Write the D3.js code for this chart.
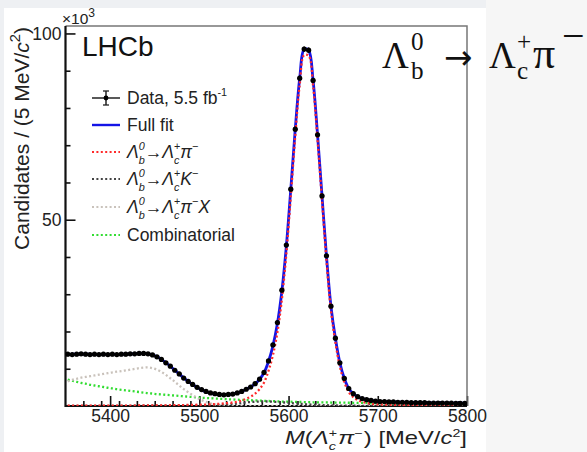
<!DOCTYPE html>
<html><head><meta charset="utf-8">
<script src="https://cdn.jsdelivr.net/npm/d3@7"></script>
<style>body{margin:0;padding:0;}svg{display:block;}</style>
</head><body>
<svg id="chart" width="587" height="452"></svg>
<script>
// ---------- data (x10^3 candidates per 5 MeV/c^2 bin) ----------
const massMin = 5350, massMax = 5800, binWidth = 5;
const xTickLabels = [5400, 5500, 5600, 5700, 5800];
const yTickLabels = [50, 100];
const dataValues = [
 13.9,13.8,13.9,14.0,13.9,13.8,13.9,13.8,13.9,13.8,
 13.9,13.8,13.9,13.9,14.0,14.0,14.1,14.1,14.0,13.7,
 13.2,12.5,11.6,10.7,9.6,8.6,7.5,6.6,5.8,5.0,
 4.4,3.9,3.5,3.3,3.1,3.0,3.1,3.2,3.5,3.9,
 4.5,5.1,6.0,7.2,9.0,12.1,16.4,22.4,31.1,43.2,
 58.2,74.3,88.0,95.8,95.5,87.4,72.8,56.4,40.3,26.8,
 18.2,11.6,7.4,4.7,3.3,2.5,2.0,1.7,1.5,1.3,
 1.2,1.2,1.1,1.1,1.0,1.0,1.0,0.9,0.9,0.9,
 0.9,0.8,0.8,0.8,0.8,0.8,0.8,0.7,0.7,0.7];
const sigLbPi = [
 0.08,0.08,0.08,0.08,0.09,0.09,0.09,0.09,0.1,0.1,
 0.1,0.1,0.11,0.11,0.12,0.12,0.13,0.13,0.14,0.15,
 0.16,0.17,0.18,0.2,0.21,0.23,0.25,0.28,0.31,0.33,
 0.35,0.39,0.44,0.5,0.58,0.68,0.8,0.95,1.15,1.45,
 1.95,2.5,3.3,4.5,6.3,9.4,13.7,19.8,28.6,40.8,
 56.2,72.5,86.3,94.2,94.0,86.0,71.5,55.2,39.1,25.7,
 17.1,10.6,6.4,3.75,2.37,1.6,1.12,0.84,0.66,0.48,
 0.42,0.38,0.35,0.32,0.3,0.28,0.26,0.24,0.23,0.22,
 0.21,0.2,0.19,0.18,0.17,0.17,0.16,0.16,0.15,0.15];
const bkgLbK = [
 0.05,0.05,0.05,0.05,0.05,0.05,0.05,0.05,0.05,0.05,
 0.05,0.05,0.06,0.06,0.06,0.07,0.07,0.08,0.08,0.09,
 0.09,0.1,0.1,0.11,0.12,0.13,0.14,0.15,0.17,0.18,
 0.18,0.2,0.23,0.26,0.3,0.35,0.42,0.52,0.64,0.78,
 0.97,1.07,1.15,1.2,1.22,1.2,1.15,1.08,1.0,0.9,
 0.8,0.7,0.6,0.5,0.42,0.35,0.3,0.25,0.2,0.17,
 0.14,0.12,0.1,0.08,0.07,0.06,0.05,0.04,0.04,0.03,
 0.03,0.03,0.03,0.03,0.03,0.02,0.02,0.02,0.02,0.02,
 0.02,0.02,0.02,0.02,0.02,0.02,0.02,0.02,0.02,0.02];
const bkgPartReco = [
 6.6,7.0,7.3,7.6,7.8,8.0,8.2,8.4,8.6,8.8,
 9.0,9.2,9.35,9.55,9.75,9.95,10.15,10.3,10.35,10.15,
 9.75,9.15,8.35,7.45,6.5,5.5,4.55,3.7,2.9,2.2,
 1.6,1.1,0.7,0.42,0.22,0.1,0.05,0.02,0.01,0,
 0,0,0,0,0,0,0,0,0,0,
 0,0,0,0,0,0,0,0,0,0,
 0,0,0,0,0,0,0,0,0,0,
 0,0,0,0,0,0,0,0,0,0,
 0,0,0,0,0,0,0,0,0,0];
const bkgComb = [
 7.1,6.8,6.5,6.2,6.0,5.7,5.5,5.3,5.1,4.9,
 4.7,4.5,4.35,4.2,4.05,3.9,3.75,3.6,3.45,3.35,
 3.2,3.1,3.0,2.9,2.8,2.7,2.6,2.5,2.4,2.3,
 2.2,2.15,2.1,2.0,1.95,1.9,1.8,1.75,1.7,1.65,
 1.6,1.55,1.5,1.45,1.4,1.35,1.3,1.25,1.2,1.18,
 1.15,1.1,1.08,1.05,1.02,1.0,0.98,0.96,0.95,0.93,
 0.92,0.9,0.89,0.87,0.86,0.85,0.83,0.82,0.8,0.79,
 0.78,0.76,0.75,0.74,0.72,0.71,0.7,0.69,0.67,0.66,
 0.65,0.64,0.63,0.62,0.61,0.6,0.59,0.58,0.57,0.56];

const binCenters = dataValues.map((_, i) => massMin + binWidth * (i + 0.5));
const fullFit = binCenters.map((_, i) => sigLbPi[i] + bkgLbK[i] + bkgPartReco[i] + bkgComb[i]);

// ---------- layout ----------
const svg = d3.select('#chart');
const SANS = "'Liberation Sans', Arial, Helvetica, sans-serif";
const SERIF = "'Liberation Serif', 'Times New Roman', serif";
svg.append('rect').attr('width', 587).attr('height', 452).attr('fill', '#eef0f3');
svg.append('rect').attr('x', 486).attr('y', 0).attr('width', 101).attr('height', 452).attr('fill', '#f6f6f6');
svg.append('rect').attr('x', 4).attr('y', 8).attr('width', 482).attr('height', 444).attr('fill', '#ffffff');

const L = 65.5, R = 467, T = 26, B = 406;
const x = d3.scaleLinear().domain([massMin, massMax]).range([L, R]);
const y = d3.scaleLinear().domain([0, 102]).range([B, T]);

svg.append('defs').append('clipPath').attr('id', 'clip')
  .append('rect').attr('x', L).attr('y', T).attr('width', R - L).attr('height', B - T);

// rich-text helper
function rich(parent, parts, o) {
  const fs = o.size;
  const t = parent.append('text').attr('font-family', o.family).attr('font-size', fs).attr('fill', o.fill || '#111');
  let cx = 0;
  const add = (str, dy, size, it, fam) => {
    const sp = t.append('tspan').attr('x', cx).attr('y', dy).attr('font-size', size)
      .attr('font-style', it ? 'italic' : 'normal').text(str);
    if (fam) sp.attr('font-family', fam);
    return sp.node().getComputedTextLength();
  };
  parts.forEach(p => {
    if (p.at !== undefined) cx = p.at;
    if (p.s !== undefined) { cx += add(p.s, p.dy || 0, p.size || fs, p.i, p.fam) + (p.pad || 0); }
    else {
      const ss = p.size || fs * (o.scr || 0.7);
      let w1 = 0, w2 = 0;
      if (p.sup !== undefined) w1 = add(p.sup, -fs * (o.up || 0.42) + (p.dy || 0), ss, p.si);
      if (p.sub !== undefined) w2 = add(p.sub, fs * (o.down || 0.28), ss, p.bi);
      cx += Math.max(w1, w2) + (p.pad || 0);
    }
  });
  return { node: t, width: cx };
}

// ---------- axes ----------
const xMinor = d3.range(massMin + 20, massMax, 20).filter(v => v % 100 !== 0);
const yMinor = d3.range(10, 101, 10).filter(v => v % 50 !== 0);

svg.append('g').attr('transform', `translate(0,${B})`)
  .call(d3.axisBottom(x).tickValues(xTickLabels).tickSize(-10).tickPadding(4).tickFormat(d3.format('d')));
svg.append('g').attr('transform', `translate(0,${B})`)
  .call(d3.axisBottom(x).tickValues(xMinor).tickSize(-5).tickFormat(''));
svg.append('g').attr('transform', `translate(${L},0)`)
  .call(d3.axisLeft(y).tickValues(yTickLabels).tickSize(-10).tickPadding(4));
svg.append('g').attr('transform', `translate(${L},0)`)
  .call(d3.axisLeft(y).tickValues(yMinor).tickSize(-5).tickFormat(''));
svg.selectAll('.domain').remove();
svg.selectAll('.tick line').attr('stroke', '#111').attr('stroke-width', 1.6);
svg.selectAll('.tick text').attr('font-family', SANS).attr('font-size', 17.5).attr('fill', '#222');

// frame
svg.append('path').attr('d', `M${L},${T}H${R}V${B}`).attr('fill', 'none').attr('stroke', '#777').attr('stroke-width', 1.5);
svg.append('path').attr('d', `M${L},${T}V${B}H${R}`).attr('fill', 'none').attr('stroke', '#111').attr('stroke-width', 2.2);

// x10^3
const mult = svg.append('g').attr('transform', 'translate(62,24)');
rich(mult, [{ s: '×10' }, { sup: '3' }], { size: 15.5, family: SANS, fill: '#222', scr: 0.78, up: 0.45 });

// axis titles
const xt = svg.append('g');
const xr = rich(xt, [{ s: 'M', i: true }, { s: '(' }, { s: 'Λ', i: true }, { sub: 'c', sup: '+', bi: true, pad: 1 }, { s: 'π', i: true }, { sup: '−', pad: 1 }, { s: ') [MeV/' }, { s: 'c', i: true }, { sup: '2' }, { s: ']' }],
  { size: 18.5, family: SANS, fill: '#222', scr: 0.6, up: 0.4, down: 0.3 });
const xStretch = 182 / xr.width;
xt.attr('transform', `translate(${R - xr.width * xStretch},444) scale(${xStretch},1)`);

const yt = svg.append('g');
const yr = rich(yt, [{ s: 'Candidates / (5 MeV/' }, { s: 'c', i: true }, { sup: '2' }, { s: ')' }],
  { size: 21, family: SANS, fill: '#222' });
yt.attr('transform', `translate(29,${27 + yr.width}) rotate(-90)`);

// ---------- curves ----------
const plot = svg.append('g').attr('clip-path', 'url(#clip)');
const lineOf = arr => d3.line().x((d, i) => x(binCenters[i])).y(d => y(d)).curve(d3.curveCatmullRom.alpha(0.5))(arr);

plot.append('path').attr('d', lineOf(fullFit)).attr('fill', 'none').attr('stroke', '#1414e6').attr('stroke-width', 2.8);
const comps = [
  { arr: bkgComb, color: '#33dd33' },
  { arr: bkgPartReco, color: '#c9c2bb' },
  { arr: bkgLbK, color: '#444444' },
  { arr: sigLbPi, color: '#ff2a2a' }
];
comps.forEach(c => plot.append('path').attr('d', lineOf(c.arr)).attr('fill', 'none')
  .attr('stroke', c.color).attr('stroke-width', 2.3).attr('stroke-dasharray', '2,2.4'));

// data points
const pts = plot.append('g');
dataValues.forEach((v, i) => {
  const cx = x(binCenters[i]), cy = y(v);
  const err = Math.sqrt(v * 1000) / 1000;
  pts.append('line').attr('x1', x(binCenters[i] - binWidth / 2)).attr('x2', x(binCenters[i] + binWidth / 2))
    .attr('y1', cy).attr('y2', cy).attr('stroke', '#000').attr('stroke-width', 1.3);
  pts.append('line').attr('x1', cx).attr('x2', cx).attr('y1', y(v - err) + 1.5).attr('y2', y(v + err) - 1.5)
    .attr('stroke', '#000').attr('stroke-width', 1.3);
  pts.append('circle').attr('cx', cx).attr('cy', cy).attr('r', 2.6).attr('fill', '#000');
});

// ---------- labels ----------
svg.append('text').attr('x', 82).attr('y', 56).attr('font-family', SANS).attr('font-size', 28).attr('fill', '#111').text('LHCb');

// legend
const lg = svg.append('g');
const lx0 = 92, lx1 = 120, tx = 127;
const rowsY = [98, 125, 152, 179, 207, 235];
lg.append('line').attr('x1', lx0).attr('x2', lx1).attr('y1', rowsY[0]).attr('y2', rowsY[0]).attr('stroke', '#222').attr('stroke-width', 1.5);
lg.append('line').attr('x1', 106).attr('x2', 106).attr('y1', rowsY[0] - 7).attr('y2', rowsY[0] + 7).attr('stroke', '#222').attr('stroke-width', 1.5);
lg.append('line').attr('x1', 103).attr('x2', 109).attr('y1', rowsY[0] - 7).attr('y2', rowsY[0] - 7).attr('stroke', '#222').attr('stroke-width', 1.3);
lg.append('line').attr('x1', 103).attr('x2', 109).attr('y1', rowsY[0] + 7).attr('y2', rowsY[0] + 7).attr('stroke', '#222').attr('stroke-width', 1.3);
lg.append('circle').attr('cx', 106).attr('cy', rowsY[0]).attr('r', 2.4).attr('fill', '#000');
lg.append('line').attr('x1', lx0).attr('x2', lx1).attr('y1', rowsY[1]).attr('y2', rowsY[1]).attr('stroke', '#1414e6').attr('stroke-width', 2.4);
const legendDotted = ['#ff2a2a', '#444444', '#c9c2bb', '#33dd33'];
legendDotted.forEach((c, k) => lg.append('line').attr('x1', lx0).attr('x2', lx1).attr('y1', rowsY[k + 2]).attr('y2', rowsY[k + 2])
  .attr('stroke', c).attr('stroke-width', 2.2).attr('stroke-dasharray', '2,2.4'));

const lopt = { size: 17.5, family: SANS, fill: '#222', scr: 0.62, up: 0.45, down: 0.32 };
const addRow = (k, parts) => { const g = lg.append('g').attr('transform', `translate(${tx},${rowsY[k] + 6})`); rich(g, parts, lopt); };
addRow(0, [{ s: 'Data, 5.5 fb' }, { sup: '-1' }]);
addRow(1, [{ s: 'Full fit' }]);
const lbHead = [{ s: 'Λ', i: true }, { sub: 'b', sup: '0', si: true, bi: true }, { s: '→' }, { s: 'Λ', i: true }, { sub: 'c', sup: '+', bi: true }];
addRow(2, lbHead.concat([{ s: 'π', i: true }, { sup: '−' }]));
addRow(3, lbHead.concat([{ s: 'K', i: true }, { sup: '−' }]));
addRow(4, lbHead.concat([{ s: 'π', i: true }, { sup: '−' }, { s: 'X', i: true }]));
addRow(5, [{ s: 'Combinatorial' }]);

// decay formula
const fg = svg.append('g').attr('transform', 'translate(382,68)');
rich(fg, [{ s: 'Λ', at: 0 }, { sub: 'b', sup: '0', at: 29 }, { s: '→', at: 62, size: 34, dy: 1, fam: "'DejaVu Sans', sans-serif" }, { s: 'Λ', at: 107 },
  { sub: 'c', sup: '+', at: 135 }, { s: 'π', at: 151, size: 44 }, { sup: '−', at: 180, size: 40, dy: -1 }],
  { size: 37, family: SERIF, fill: '#111', scr: 0.68, up: 0.5, down: 0.3 });
</script>
</body></html>
